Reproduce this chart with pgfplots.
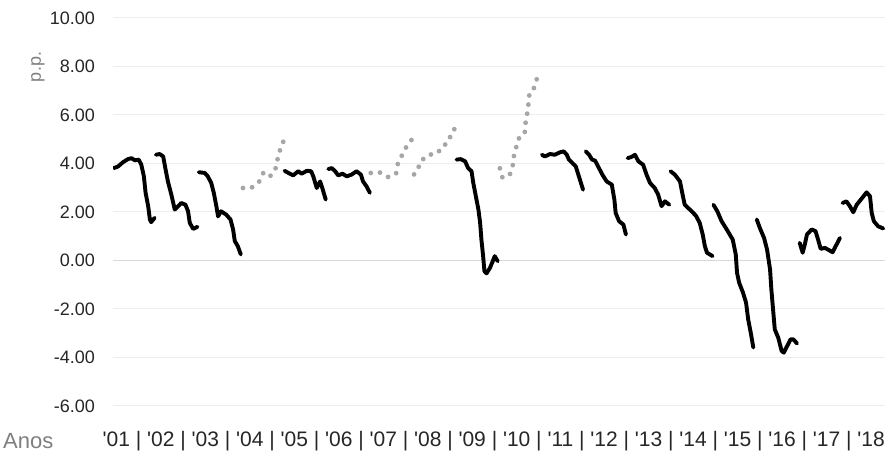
\documentclass[border=0pt]{standalone}
\usepackage{fontspec}
\setmainfont{Liberation Sans}[Ligatures=TeXOff]
\usepackage{pgfplots}
\pgfplotsset{compat=1.18}
\definecolor{dotgray}{HTML}{A6A6A6}
\definecolor{gridc}{HTML}{EDEDED}
\definecolor{zeroc}{HTML}{D9D9D9}
\definecolor{ticktxt}{HTML}{262626}
\definecolor{lbl}{HTML}{7F7F7F}
\begin{document}
\begin{tikzpicture}[x=1pt,y=1pt]
\path[use as bounding box] (0,0) rectangle (888,457);
\begin{axis}[
  at={(113pt,51pt)}, anchor=south west,
  scale only axis, width=772pt, height=388pt,
  xmin=2001, xmax=2019, ymin=-6, ymax=10,
  axis line style={draw=none},
  tick style={draw=none},
  xtick=\empty,
  ytick={-6,-4,-2,0,2,4,6,8,10},
  ymajorgrids, grid style={gridc, line width=1pt},
  /pgf/number format/assume math mode=true,
  yticklabel style={anchor=east, inner sep=0pt, xshift=-18pt,
    font=\fontsize{18}{20}\selectfont, text=ticktxt,
    /pgf/number format/fixed, /pgf/number format/fixed zerofill,
    /pgf/number format/precision=2},
  no markers,
  solidline/.style={black, line width=3.9pt, line join=round, line cap=round},
  dotline/.style={dotgray, line width=4.8pt, line cap=round, line join=round, dash pattern=on 0pt off #1},
]
\draw[zeroc, line width=1.2pt] (axis cs:2001,0) -- (axis cs:2019,0);
% 2001
\addplot[solidline] coordinates {(2001.02,3.81)(2001.12,3.88)(2001.23,4.05)(2001.35,4.18)(2001.43,4.22)(2001.51,4.13)(2001.60,4.16)(2001.66,3.95)(2001.72,3.47)(2001.76,2.79)(2001.82,2.24)(2001.86,1.69)(2001.89,1.58)(2001.97,1.76)};
% 2002
\addplot[solidline] coordinates {(2002.00,4.36)(2002.09,4.39)(2002.17,4.29)(2002.22,3.81)(2002.28,3.26)(2002.36,2.72)(2002.44,2.10)(2002.52,2.24)(2002.59,2.37)(2002.69,2.30)(2002.75,2.03)(2002.79,1.55)(2002.87,1.30)(2002.97,1.39)};
% 2003
\addplot[solidline] coordinates {(2003.00,3.64)(2003.14,3.61)(2003.21,3.47)(2003.29,3.20)(2003.35,2.79)(2003.41,2.24)(2003.45,1.82)(2003.52,2.03)(2003.64,1.89)(2003.74,1.69)(2003.80,1.28)(2003.84,0.80)(2003.91,0.59)(2003.98,0.25)};
% 2004 (dotted)
\addplot[dotline=9.19pt] coordinates {(2004.03,2.99)(2004.25,3.02)(2004.41,3.26)(2004.51,3.63)(2004.66,3.47)(2004.78,3.72)(2004.83,4.13)(2004.89,4.53)(2004.97,4.90)};
% 2005
\addplot[solidline] coordinates {(2005.00,3.70)(2005.09,3.61)(2005.20,3.51)(2005.32,3.68)(2005.40,3.58)(2005.52,3.70)(2005.62,3.68)(2005.67,3.47)(2005.75,2.99)(2005.83,3.26)(2005.88,2.99)(2005.96,2.51)};
% 2006
\addplot[solidline] coordinates {(2006.02,3.77)(2006.10,3.81)(2006.18,3.68)(2006.25,3.51)(2006.35,3.58)(2006.45,3.47)(2006.56,3.54)(2006.68,3.68)(2006.78,3.54)(2006.83,3.26)(2006.91,3.06)(2006.99,2.79)};
% 2007 (dotted)
\addplot[dotline=9.24pt] coordinates {(2007.01,3.61)(2007.22,3.63)(2007.42,3.44)(2007.60,3.58)(2007.64,3.98)(2007.74,4.35)(2007.85,4.72)(2007.96,4.97)};
% 2008 (dotted)
\addplot[dotline=8.95pt] coordinates {(2008.02,3.55)(2008.12,3.84)(2008.23,4.18)(2008.41,4.37)(2008.58,4.47)(2008.74,4.77)(2008.86,5.09)(2008.96,5.42)};
% 2009
\addplot[solidline] coordinates {(2009.01,4.16)(2009.11,4.18)(2009.21,4.09)(2009.28,3.81)(2009.36,3.68)(2009.40,3.20)(2009.46,2.65)(2009.52,2.10)(2009.56,1.55)(2009.59,0.86)(2009.63,0.18)(2009.66,-0.44)(2009.71,-0.53)(2009.79,-0.30)(2009.84,-0.09)(2009.90,0.18)(2009.97,-0.03)};
% 2010 (dotted)
\addplot[dotline=9.18pt] coordinates {(2010.02,3.80)(2010.08,3.42)(2010.25,3.53)(2010.32,3.92)(2010.35,4.33)(2010.41,4.73)(2010.48,5.12)(2010.60,5.28)(2010.62,5.69)(2010.66,6.09)(2010.69,6.50)(2010.71,6.91)(2010.81,7.09)(2010.88,7.48)};
% 2011
\addplot[solidline] coordinates {(2011.00,4.36)(2011.07,4.29)(2011.19,4.39)(2011.30,4.36)(2011.42,4.46)(2011.51,4.50)(2011.58,4.36)(2011.63,4.16)(2011.71,4.02)(2011.79,3.88)(2011.85,3.54)(2011.91,3.20)(2011.96,2.92)};
% 2012
\addplot[solidline] coordinates {(2012.02,4.50)(2012.10,4.36)(2012.17,4.16)(2012.24,4.12)(2012.31,3.88)(2012.41,3.54)(2012.51,3.26)(2012.63,3.13)(2012.69,2.51)(2012.72,1.96)(2012.80,1.62)(2012.90,1.48)(2012.96,1.07)};
% 2013
\addplot[solidline] coordinates {(2013.00,4.22)(2013.09,4.27)(2013.17,4.36)(2013.25,4.09)(2013.36,3.95)(2013.44,3.54)(2013.52,3.20)(2013.63,2.99)(2013.71,2.72)(2013.79,2.24)(2013.87,2.44)(2013.97,2.30)};
% 2014
\addplot[solidline] coordinates {(2014.00,3.68)(2014.10,3.54)(2014.22,3.26)(2014.28,2.72)(2014.33,2.30)(2014.45,2.10)(2014.59,1.85)(2014.68,1.55)(2014.75,1.07)(2014.80,0.59)(2014.85,0.32)(2014.98,0.18)};
% 2015
\addplot[solidline] coordinates {(2015.00,2.30)(2015.09,2.03)(2015.19,1.62)(2015.31,1.28)(2015.45,0.86)(2015.52,0.25)(2015.55,-0.51)(2015.60,-0.92)(2015.69,-1.33)(2015.76,-1.74)(2015.81,-2.43)(2015.87,-2.98)(2015.93,-3.59)};
% 2016
\addplot[solidline] coordinates {(2016.01,1.69)(2016.08,1.35)(2016.18,0.93)(2016.25,0.45)(2016.32,-0.37)(2016.35,-1.19)(2016.39,-2.02)(2016.43,-2.84)(2016.51,-3.18)(2016.59,-3.73)(2016.64,-3.80)(2016.70,-3.59)(2016.80,-3.25)(2016.86,-3.25)(2016.95,-3.42)};
% 2017
\addplot[solidline] coordinates {(2017.01,0.73)(2017.08,0.32)(2017.13,0.66)(2017.18,1.07)(2017.29,1.28)(2017.38,1.21)(2017.44,0.86)(2017.50,0.48)(2017.60,0.52)(2017.67,0.45)(2017.78,0.34)(2017.85,0.59)(2017.95,0.93)};
% 2018
\addplot[solidline] coordinates {(2018.01,2.37)(2018.10,2.44)(2018.18,2.24)(2018.26,1.99)(2018.34,2.30)(2018.45,2.54)(2018.57,2.81)(2018.65,2.65)(2018.69,1.96)(2018.74,1.62)(2018.84,1.41)(2018.96,1.32)};
\end{axis}
\node[anchor=base west, inner sep=0pt, text=lbl, font=\fontsize{22}{24}\selectfont] at (3,8) {Anos};
\node[anchor=base east, inner sep=0pt, text=ticktxt, font=\fontsize{21}{23}\selectfont] at (885,10) {'01 | '02 | '03 | '04 | '05 | '06 | '07 | '08 | '09 | '10 | '11 | '12 | '13 | '14 | '15 | '16 | '17 | '18};
\node[rotate=90, inner sep=0pt, text=lbl, font=\fontsize{18}{20}\selectfont] at (38,390) {p.p.};
\end{tikzpicture}
\end{document}
